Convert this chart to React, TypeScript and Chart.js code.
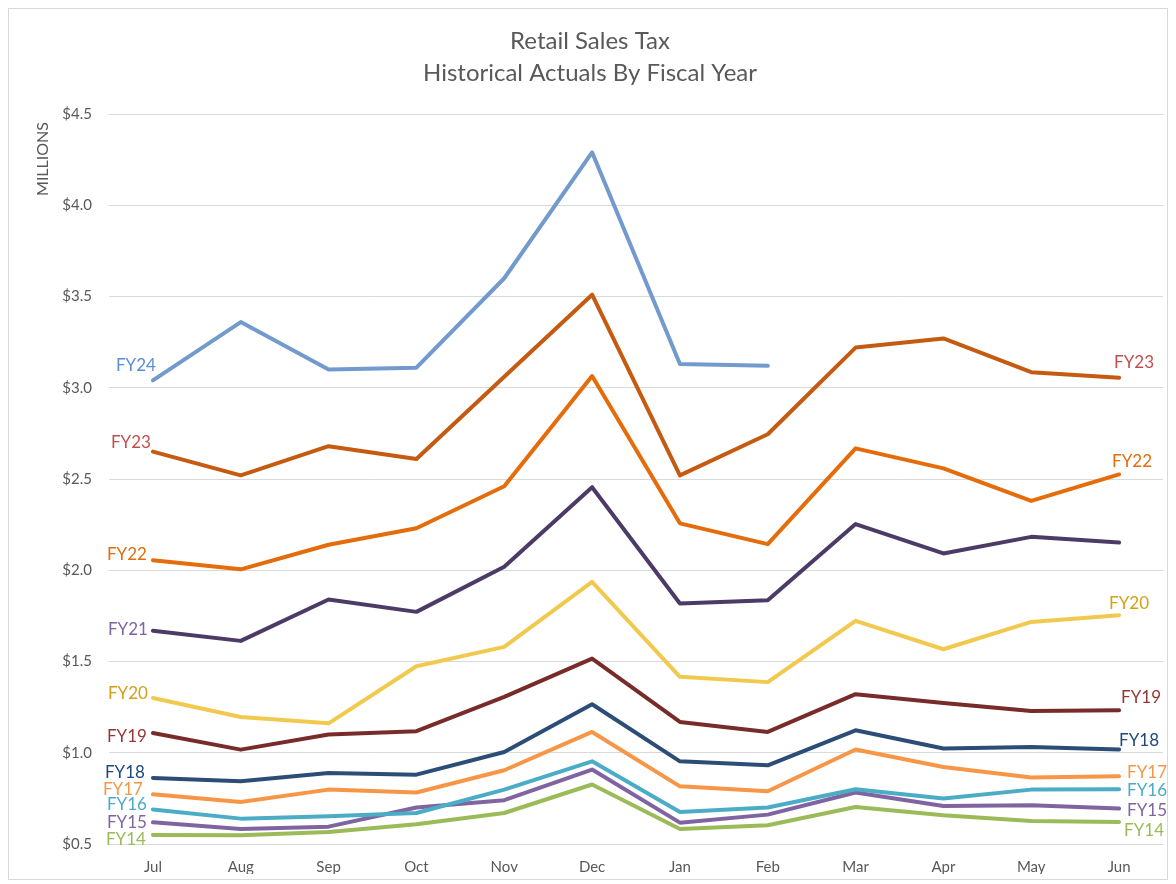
import React, { useEffect, useRef } from "react";
import { Chart, registerables } from "chart.js";

Chart.register(...registerables);

const months = ["Jul", "Aug", "Sep", "Oct", "Nov", "Dec", "Jan", "Feb", "Mar", "Apr", "May", "Jun"];

const fy24 = [3.04, 3.36, 3.1, 3.11, 3.6, 4.29, 3.13, 3.12, null, null, null, null];
const fy23 = [2.65, 2.52, 2.68, 2.61, 3.06, 3.51, 2.52, 2.745, 3.22, 3.27, 3.085, 3.055];
const fy22 = [2.055, 2.005, 2.14, 2.23, 2.46, 3.064, 2.257, 2.143, 2.668, 2.558, 2.38, 2.525];
const fy21 = [1.668, 1.613, 1.84, 1.772, 2.019, 2.455, 1.818, 1.836, 2.253, 2.092, 2.183, 2.152];
const fy20 = [1.3, 1.196, 1.161, 1.474, 1.58, 1.936, 1.416, 1.387, 1.723, 1.567, 1.717, 1.754];
const fy19 = [1.108, 1.017, 1.1, 1.118, 1.306, 1.516, 1.169, 1.114, 1.321, 1.273, 1.229, 1.233];
const fy18 = [0.862, 0.844, 0.889, 0.88, 1.004, 1.266, 0.953, 0.931, 1.123, 1.023, 1.032, 1.018];
const fy17 = [0.772, 0.73, 0.798, 0.782, 0.904, 1.114, 0.816, 0.789, 1.018, 0.922, 0.864, 0.871];
const fy16 = [0.689, 0.639, 0.652, 0.67, 0.798, 0.953, 0.675, 0.7, 0.8, 0.749, 0.798, 0.8];
const fy15 = [0.619, 0.582, 0.595, 0.7, 0.74, 0.908, 0.617, 0.661, 0.782, 0.708, 0.712, 0.694];
const fy14 = [0.55, 0.548, 0.566, 0.608, 0.67, 0.826, 0.582, 0.603, 0.703, 0.657, 0.626, 0.621];

const seriesNames = ["FY24", "FY23", "FY22", "FY21", "FY20", "FY19", "FY18", "FY17", "FY16", "FY15", "FY14"];
const seriesValues = [fy24, fy23, fy22, fy21, fy20, fy19, fy18, fy17, fy16, fy15, fy14];

const titleLines = ["Retail Sales Tax", "Historical Actuals By Fiscal Year"];
const unitLabel = "MILLIONS";

// styles
const lineColors = ["#729ACD", "#C55A11", "#E46C0A", "#4B3B66", "#F2C94F", "#782C2A", "#2C4D75", "#F79646", "#4BACC6", "#8064A2", "#9BBB59"];
const labelColors = ["#5B8ED6", "#C0504D", "#E46C0A", "#8064A2", "#D4A017", "#953735", "#1F497D", "#F79646", "#4BACC6", "#8064A2", "#9BBB59"];
// offsets of the left (first point) and right (last point) labels, [dx, dy] or null
const leftOffsets: ([number, number] | null)[] = [[3, -15], [-2, -9], [-6, -6], [-5, -1], [-5, -4], [-6, 3], [-8, -5], [-10, -5], [-6, -5], [-6, 0], [-7, 5]];
const rightOffsets: ([number, number] | null)[] = [null, [-5, -15], [-7, -13], null, [-10, -12], [2, -13], [0, -9], [8, -4], [8, 1], [8, 2], [5, 9]];

const FONT = "Lato, 'Open Sans', sans-serif";
const GREY = "#595959";

const textPlugin = {
  id: "customText",
  afterDatasetsDraw(chart: any) {
    const ctx = chart.ctx;
    ctx.save();
    // title
    ctx.fillStyle = GREY;
    ctx.textAlign = "center";
    ctx.textBaseline = "middle";
    ctx.font = `24px ${FONT}`;
    ctx.fillText(titleLines[0], chart.width / 2 + 2, 32);
    ctx.fillText(titleLines[1], chart.width / 2 + 2, 64);
    // unit label
    ctx.save();
    ctx.translate(34, 150);
    ctx.rotate(-Math.PI / 2);
    ctx.font = `16px ${FONT}`;
    ctx.fillText(unitLabel, 0, 0);
    ctx.restore();
    // series labels
    ctx.font = `17px ${FONT}`;
    ctx.textBaseline = "middle";
    chart.data.datasets.forEach((ds: any, i: number) => {
      const meta = chart.getDatasetMeta(i);
      const pts = meta.data;
      ctx.fillStyle = labelColors[i];
      const lo = leftOffsets[i];
      if (lo) {
        const p = pts[0];
        ctx.textAlign = "right";
        ctx.fillText(seriesNames[i], p.x + lo[0], p.y + lo[1]);
      }
      const ro = rightOffsets[i];
      if (ro) {
        let last = -1;
        ds.data.forEach((v: any, j: number) => { if (v !== null) last = j; });
        const p = pts[last];
        ctx.textAlign = "left";
        ctx.fillText(seriesNames[i], p.x + ro[0], p.y + ro[1]);
      }
    });
    ctx.restore();
  },
};

export default function App() {
  const ref = useRef<HTMLCanvasElement>(null);
  useEffect(() => {
    if (!ref.current) return;
    const chart = new Chart(ref.current, {
      type: "line",
      data: {
        labels: months,
        datasets: seriesValues.map((vals, i) => ({
          label: seriesNames[i],
          data: vals,
          borderColor: lineColors[i],
          backgroundColor: lineColors[i],
          borderWidth: 4,
          pointRadius: 0,
          pointHoverRadius: 0,
          tension: 0,
          borderCapStyle: "round" as const,
          borderJoinStyle: "round" as const,
          spanGaps: false,
        })),
      },
      options: {
        animation: false,
        responsive: false,
        maintainAspectRatio: false,
        layout: { padding: { top: 105, right: 4, bottom: 5, left: 0 } },
        plugins: {
          legend: { display: false },
          title: { display: false },
          tooltip: { enabled: false },
        },
        scales: {
          x: {
            offset: true,
            grid: { display: false, drawTicks: false },
            border: { display: false },
            ticks: { color: GREY, font: { family: FONT, size: 15 }, padding: 14, maxRotation: 0 },
            afterFit: (s: any) => { s.height = 30; },
          },
          y: {
            min: 0.5,
            max: 4.5,
            grid: { color: "#D9D9D9", lineWidth: 1, drawTicks: false, tickLength: 0 },
            border: { display: false },
            ticks: {
              stepSize: 0.5,
              color: GREY,
              font: { family: FONT, size: 15 },
              padding: 17,
              callback: (v: any) => "$" + Number(v).toFixed(1),
            },
            afterFit: (s: any) => { s.width = 100; },
          },
        },
      },
      plugins: [textPlugin],
    });
    return () => chart.destroy();
  }, []);
  return (
    <div style={{ width: 1158, height: 870, border: "1px solid #D9D9D9", background: "#fff" }}>
      <canvas ref={ref} width={1158} height={870} style={{ display: "block" }} />
    </div>
  );
}
